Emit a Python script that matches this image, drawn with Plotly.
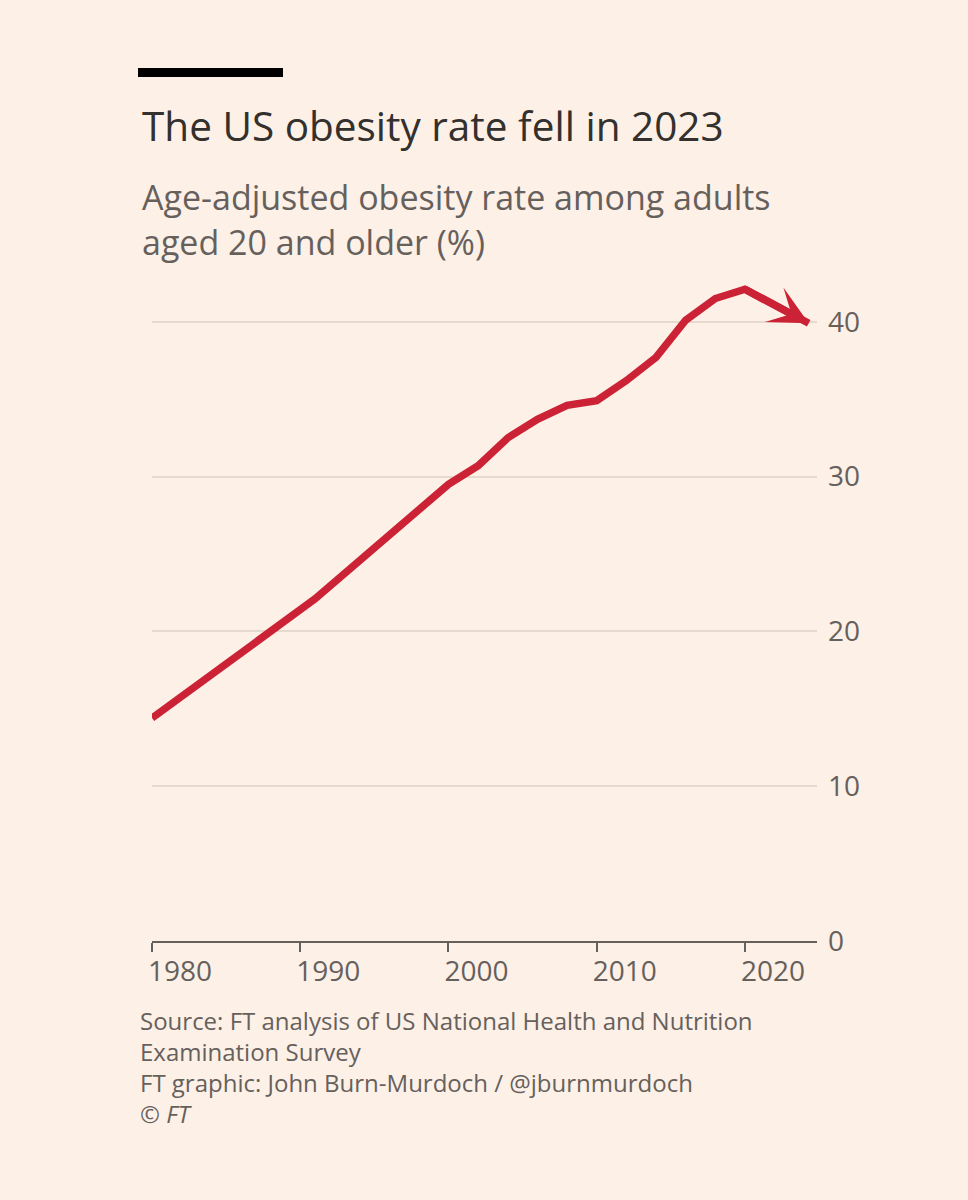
import plotly.graph_objects as go

# Age-adjusted obesity rate, US adults 20+ (%)
years = [1980, 1991, 2000, 2002, 2004, 2006, 2008, 2010, 2012, 2014, 2016, 2018, 2020, 2024.3]
rates = [14.4, 22.1, 29.5, 30.7, 32.5, 33.7, 34.6, 34.9, 36.2, 37.7, 40.1, 41.5, 42.1, 39.9]

x_ticks = [1980, 1990, 2000, 2010, 2020]
y_ticks = [0, 10, 20, 30, 40]

title = "The US obesity rate fell in 2023"
subtitle = ["Age-adjusted obesity rate among adults", "aged 20 and older (%)"]
notes = [
    "Source: FT analysis of US National Health and Nutrition",
    "Examination Survey",
    "FT graphic: John Burn-Murdoch / @jburnmurdoch",
    "© <i>FT</i>",
]

BG = "#FDF0E7"
RED = "#CC2236"
DARK = "#33302E"
GREY = "#66605C"
GRID = "#E6D9CE"
FONT = "Open Sans"
LINE_W = 7.5

W, H = 968, 1200
PLOT_L, PLOT_R, PLOT_T, PLOT_B = 152, 817, 275, 941


def paper_x(px):
    return (px - PLOT_L) / (PLOT_R - PLOT_L)


def paper_y(py):
    return (PLOT_B - py) / (PLOT_B - PLOT_T)


fig = go.Figure()

fig.add_trace(go.Scatter(
    x=years,
    y=rates,
    mode="lines",
    line=dict(color=RED, width=LINE_W),
    hoverinfo="skip",
    showlegend=False,
))

annotations = [
    # arrow head on the last segment (2020 -> latest)
    dict(
        x=years[-1], y=rates[-1], ax=years[-2], ay=rates[-2],
        xref="x", yref="y", axref="x", ayref="y",
        text="", font=dict(size=1), borderpad=0,
        showarrow=True, arrowhead=3, arrowsize=0.87,
        arrowwidth=LINE_W, arrowcolor=RED, standoff=0,
    ),
    dict(
        x=paper_x(140), y=paper_y(125), xref="paper", yref="paper",
        xanchor="left", yanchor="middle", text=title, showarrow=False,
        font=dict(family=FONT, size=40.5, color=DARK),
    ),
]

for i, line in enumerate(subtitle):
    annotations.append(dict(
        x=paper_x(140), y=paper_y(197 + i * 45), xref="paper", yref="paper",
        xanchor="left", yanchor="middle", text=line, showarrow=False,
        font=dict(family=FONT, size=34, color=GREY),
    ))

for i, line in enumerate(notes):
    annotations.append(dict(
        x=paper_x(138), y=paper_y(1020 + i * 31), xref="paper", yref="paper",
        xanchor="left", yanchor="middle", text=line, showarrow=False,
        font=dict(family=FONT, size=24, color=GREY),
    ))

fig.update_layout(
    width=W,
    height=H,
    margin=dict(l=PLOT_L, r=W - PLOT_R, t=PLOT_T, b=H - PLOT_B, pad=0),
    paper_bgcolor=BG,
    plot_bgcolor=BG,
    font=dict(family=FONT, color=GREY),
    annotations=annotations,
    shapes=[dict(
        type="rect", xref="paper", yref="paper",
        x0=paper_x(138), x1=paper_x(283), y0=paper_y(77), y1=paper_y(68),
        fillcolor="#000000", line=dict(width=0),
    )],
)

fig.update_xaxes(
    range=[1980, 2024.86],
    tickvals=x_ticks,
    ticktext=[str(t) for t in x_ticks],
    showgrid=False,
    zeroline=False,
    showline=True,
    linecolor=GREY,
    linewidth=2,
    ticks="outside",
    ticklen=9,
    tickwidth=2,
    tickcolor=GREY,
    ticklabelposition="outside right",
    ticklabelshift=-6,
    ticklabelstandoff=4,
    tickfont=dict(family=FONT, size=28, color=GREY),
)

fig.update_yaxes(
    range=[0, 43.02],
    side="right",
    tickvals=y_ticks,
    showgrid=True,
    gridcolor=GRID,
    gridwidth=1.5,
    zeroline=False,
    ticks="",
    ticklabelstandoff=10,
    tickfont=dict(family=FONT, size=28, color=GREY),
)

fig.write_html(
    "out.html",
    config={"displayModeBar": False},
    post_script="document.body.style.margin='0';",
)
